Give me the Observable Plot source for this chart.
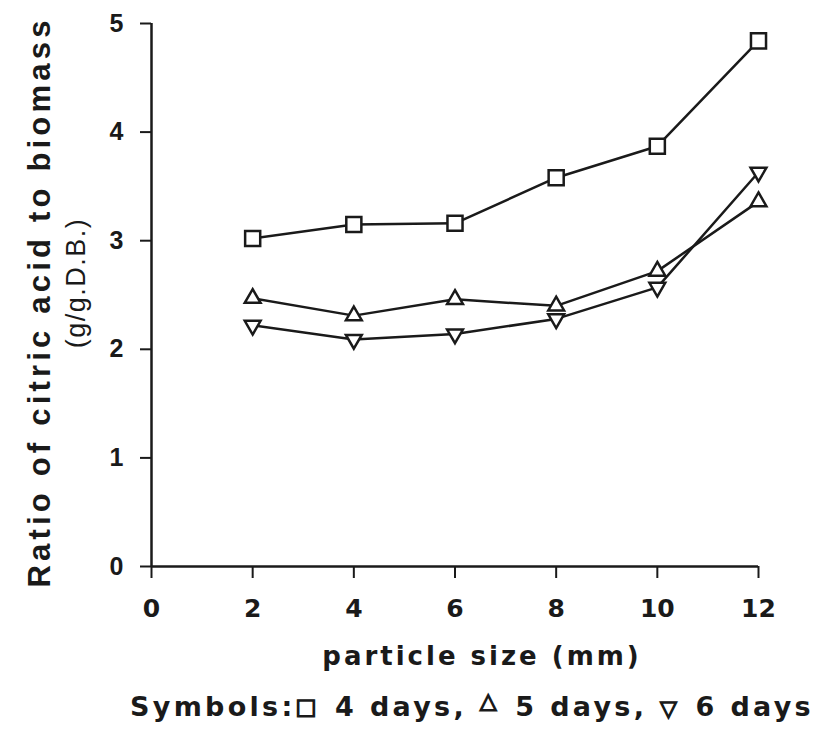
<!DOCTYPE html>
<html>
<head>
<meta charset="utf-8">
<script src="https://cdn.jsdelivr.net/npm/d3@7"></script>
<script src="https://cdn.jsdelivr.net/npm/@observablehq/plot@0.6"></script>
<style>
  body { margin: 0; background: #fff; overflow: hidden; }
  #chart svg { display: block; }
  #legend {
    height: 50px;
    padding-left: 130px;
    white-space: nowrap;
    font: bold 27px "DejaVu Sans", sans-serif;
    line-height: 54px;
    letter-spacing: 3.3px;
    color: #1a1a1a;
  }
  #legend .sym {
    font-size: 22px;
    -webkit-text-stroke: 1.4px #1a1a1a;
    letter-spacing: 0;
    position: relative;
    top: -2px;
    margin-right: 6px;
  }
  #legend .sym.up { top: -8px; }
  #legend .sym.down { top: 0; }
</style>
</head>
<body>
<div id="chart"></div>
<div id="legend"></div>
<script>
// Particle size (mm) and citric acid / biomass ratio per fermentation time
const particleSize = [2, 4, 6, 8, 10, 12];
const ratio4days = [3.02, 3.15, 3.16, 3.58, 3.87, 4.84];
const ratio5days = [2.47, 2.31, 2.46, 2.40, 2.72, 3.36];
const ratio6days = [2.22, 2.09, 2.14, 2.28, 2.57, 3.63];
const seriesNames = ["4 days", "5 days", "6 days"];
const legendGlyphs = ["\u25A1", "\u25B3", "\u25BD"];
const xTicks = [0, 2, 4, 6, 8, 10, 12];
const yTicks = [0, 1, 2, 3, 4, 5];
const xLabel = "particle size (mm)";
const yLabel = "Ratio of citric acid to biomass";
const yUnit = "(g/g.D.B.)";

const ink = "#1a1a1a";

// long-format rows built from the arrays above
const rows = [ratio4days, ratio5days, ratio6days].flatMap((vals, s) =>
  vals.map((v, i) => ({series: seriesNames[s], size: particleSize[i], ratio: v}))
);
const bySeries = name => rows.filter(d => d.series === name);

// hollow marker shapes: square, upward triangle, downward triangle
const squareSym = {
  draw(ctx, size) {
    const h = Math.sqrt(size) / 2;
    ctx.moveTo(-h, -h); ctx.lineTo(h, -h); ctx.lineTo(h, h); ctx.lineTo(-h, h); ctx.closePath();
  }
};
const triUp = {
  draw(ctx, size) {
    const s = Math.sqrt(size) * 1.05, h = s * Math.sqrt(3) / 2;
    ctx.moveTo(0, -2 * h / 3); ctx.lineTo(s / 2, h / 3); ctx.lineTo(-s / 2, h / 3); ctx.closePath();
  }
};
const triDown = {
  draw(ctx, size) {
    const s = Math.sqrt(size) * 1.05, h = s * Math.sqrt(3) / 2;
    ctx.moveTo(0, 2 * h / 3); ctx.lineTo(s / 2, -h / 3); ctx.lineTo(-s / 2, -h / 3); ctx.closePath();
  }
};
const symbols = [squareSym, triUp, triDown];

const dotOpts = {x: "size", y: "ratio", r: 8.5, fill: "white", stroke: ink, strokeWidth: 2.5};

const chart = Plot.plot({
  width: 817,
  height: 680,
  marginLeft: 151,
  marginRight: 59,
  marginTop: 23,
  marginBottom: 114,
  style: {background: "white", color: ink},
  x: {domain: [0, 12], axis: null},
  y: {domain: [0, 5], axis: null},
  marks: [
    Plot.axisX(xTicks, {
      tickSize: 12, tickPadding: 21, strokeWidth: 2, tickFormat: d => String(d),
      fontSize: 25, fontFamily: "DejaVu Sans", fontWeight: "bold", fill: ink, label: null
    }),
    Plot.axisY(yTicks, {
      tickSize: 11, tickPadding: 17, strokeWidth: 2, tickFormat: d => String(d),
      fontSize: 25, fontFamily: "Liberation Sans", fontWeight: "bold", fill: ink, label: null
    }),
    Plot.ruleY([0], {stroke: ink, strokeWidth: 2.5}),
    Plot.ruleX([0], {stroke: ink, strokeWidth: 2.5}),
    Plot.line(rows, {x: "size", y: "ratio", z: "series", stroke: ink, strokeWidth: 2.5}),
    ...seriesNames.map((name, i) => Plot.dot(bySeries(name), {...dotOpts, symbol: symbols[i]})),
    Plot.text([yLabel], {
      text: d => d, frameAnchor: "left", textAnchor: "middle", rotate: -90, dx: -111, dy: 7,
      fontSize: 31, fontWeight: "bold", fontFamily: "Liberation Sans", fill: ink
    }),
    Plot.text([yUnit], {
      text: d => d, frameAnchor: "left", textAnchor: "middle", rotate: -90, dx: -75, dy: -12,
      fontSize: 27, fontFamily: "Liberation Sans", fill: ink
    }),
    Plot.text([xLabel], {
      text: d => d, frameAnchor: "bottom", dx: 27, dy: 98,
      fontSize: 26, fontWeight: "bold", fontFamily: "DejaVu Sans", fill: ink
    })
  ]
});

// widen the letter spacing of the axis titles
const spaceText = (str, px) => d3.select(chart).selectAll("text")
  .filter(function () { return this.textContent === str; })
  .attr("letter-spacing", px);
spaceText(yLabel, 4.2);
spaceText(yUnit, 1.5);
spaceText(xLabel, 3);

document.getElementById("chart").append(chart);

// key line below the chart
const glyphClass = ["sym", "sym up", "sym down"];
const legend = d3.select("#legend");
legend.append("span").text("Symbols:");
seriesNames.forEach((name, i) => {
  legend.append("span").attr("class", glyphClass[i]).text(legendGlyphs[i]);
  legend.append("span").text(` ${name}${i < seriesNames.length - 1 ? ", " : ""}`);
});
</script>
</body>
</html>
